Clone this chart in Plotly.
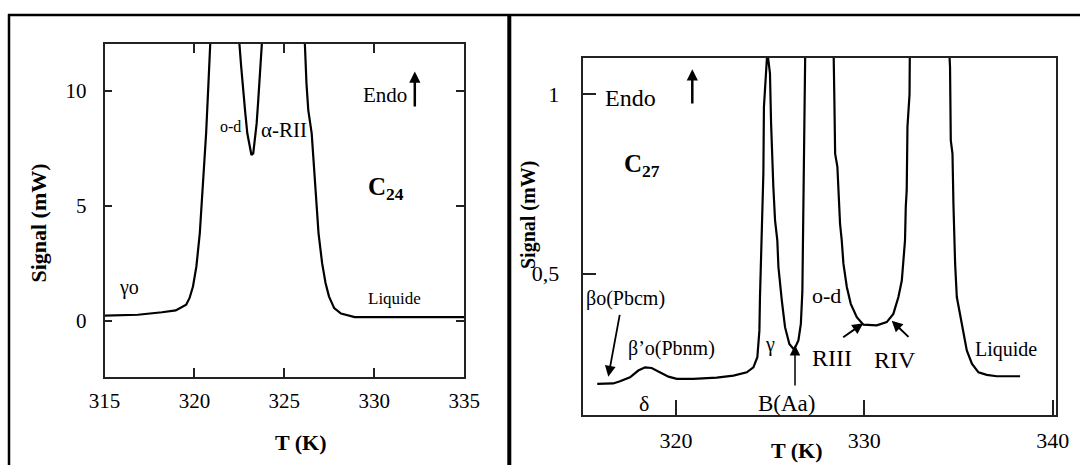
import plotly.graph_objects as go

# ---------------- data ----------------
# Left panel: C24
c24_T = [315.0, 316.86, 318.2, 318.96, 319.54, 319.73, 319.92, 320.11, 320.3, 320.49,
         320.65, 320.78, 320.88, 321.7, 322.5, 322.6, 322.69, 322.83, 322.94, 323.08,
         323.17, 323.27, 323.36, 323.46, 323.55, 323.65, 323.75, 325.0, 326.14, 326.23,
         326.33, 326.52, 326.66, 326.77, 326.9, 327.1, 327.29, 327.48, 327.77, 328.15,
         328.91, 335.0]
c24_signal = [0.23, 0.27, 0.38, 0.46, 0.71, 1.0, 1.5, 2.37, 3.82, 5.98,
              8.15, 10.32, 12.05, 14.0, 12.05, 11.04, 10.17, 9.02, 8.15, 7.57,
              7.21, 7.28, 7.86, 8.58, 9.6, 10.75, 12.05, 14.0, 12.05, 10.32,
              9.16, 8.15, 6.71, 5.26, 3.82, 2.51, 1.65, 1.07, 0.56, 0.32,
              0.17, 0.17]

# Right panel: C27
c27_T = [315.82, 316.67, 317.03, 317.56, 318.0, 318.36, 318.71, 319.15, 319.6, 320.04,
         320.92, 322.16, 323.05, 323.76, 324.11, 324.32, 324.43, 324.46, 324.51, 324.55,
         324.6, 324.64, 324.67, 324.76, 324.85, 324.99, 325.05, 325.17, 325.26, 325.38,
         325.44, 325.62, 325.79, 326.02, 326.27, 326.5, 326.63, 326.71, 326.74, 326.78,
         326.87, 327.6, 328.36, 328.41, 328.45, 328.57, 328.64, 328.71, 328.8, 328.89,
         329.07, 329.28, 329.6, 329.95, 330.66, 331.19, 331.54, 331.81, 331.99, 332.11,
         332.16, 332.2, 332.25, 332.29, 332.4, 332.42, 333.5, 334.48, 334.55, 334.59,
         334.68, 334.73, 334.76, 334.82, 334.91, 335.17, 335.44, 335.71, 336.06, 336.5,
         337.03, 338.27]
c27_signal = [0.193, 0.194, 0.2, 0.211, 0.23, 0.239, 0.237, 0.225, 0.213, 0.207,
              0.207, 0.21, 0.216, 0.225, 0.239, 0.267, 0.342, 0.435, 0.528, 0.62,
              0.70, 0.78, 0.965, 1.068, 1.12, 1.059, 0.919, 0.742, 0.649, 0.593,
              0.518, 0.425, 0.351, 0.304, 0.288, 0.314, 0.36, 0.45, 0.6, 0.8,
              1.15, 1.5, 1.15, 0.984, 0.835, 0.798, 0.714, 0.64, 0.593, 0.528,
              0.463, 0.416, 0.379, 0.358, 0.356, 0.365, 0.388, 0.435, 0.481, 0.546,
              0.593, 0.686, 0.733, 0.91, 1.0, 1.15, 1.5, 1.15, 1.077, 0.872,
              0.835, 0.696, 0.621, 0.528, 0.435, 0.36, 0.286, 0.249, 0.225, 0.218,
              0.214, 0.214]

c24_xticks = [315, 320, 325, 330, 335]
c24_yticks = [0, 5, 10]
c27_xticks = [320, 330, 340]
c27_yticks = [0.5, 1]
c27_yticklabels = ["0,5", "1"]

assert len(c24_T) == len(c24_signal)
assert len(c27_T) == len(c27_signal)

# ---------------- figure ----------------
W, H = 1080, 465
SERIF = "Liberation Serif, Times New Roman, serif"


def px(x):
    return x / W


def py(y):
    return 1 - y / H


fig = go.Figure()
fig.add_trace(go.Scatter(x=c24_T, y=c24_signal, mode="lines",
                         line=dict(color="black", width=2.2),
                         xaxis="x", yaxis="y", hoverinfo="skip"))
fig.add_trace(go.Scatter(x=c27_T, y=c27_signal, mode="lines",
                         line=dict(color="black", width=2.2),
                         xaxis="x2", yaxis="y2", hoverinfo="skip"))


def axis(**kw):
    base = dict(showgrid=False, zeroline=False, showline=True, automargin=False,
                linecolor="#222", linewidth=1.5, ticks="inside",
                tickcolor="#222", tickwidth=1.5,
                tickfont=dict(family=SERIF, size=21, color="black"))
    base.update(kw)
    return base


fig.update_layout(
    template="none",
    width=W, height=H,
    margin=dict(l=0, r=0, t=0, b=0, pad=0, autoexpand=False),
    paper_bgcolor="white", plot_bgcolor="white",
    showlegend=False,
    hovermode=False,
    xaxis=axis(domain=[px(104.5), px(464.2)], range=[315, 335], anchor="y",
               tickvals=c24_xticks, ticklen=9, mirror="ticks",
               ticklabelstandoff=4),
    yaxis=axis(domain=[py(376.7), py(44)], range=[-2.42, 12.03], anchor="x",
               tickvals=c24_yticks, ticklen=8, mirror="ticks",
               ticklabelstandoff=12),
    xaxis2=axis(domain=[px(583.3), px(1055.7)], range=[315.08, 340.16], anchor="y2",
                tickvals=c27_xticks, ticklen=15, mirror=True,
                ticklabelstandoff=5,
                tickfont=dict(family=SERIF, size=22, color="black")),
    yaxis2=axis(domain=[py(415), py(57.5)], range=[0.106, 1.103], anchor="x2",
                tickvals=c27_yticks, ticktext=c27_yticklabels, ticklen=13, mirror=True,
                ticklabelstandoff=18,
                tickfont=dict(family=SERIF, size=22, color="black")),
)

# outer frame and divider
fig.add_shape(type="line", xref="paper", yref="paper", x0=px(8), x1=1, y0=py(15), y1=py(15),
              line=dict(color="black", width=2.5))
fig.add_shape(type="line", xref="paper", yref="paper", x0=px(9), x1=px(9), y0=py(14), y1=0,
              line=dict(color="black", width=2.5))
fig.add_shape(type="line", xref="paper", yref="paper", x0=px(509.3), x1=px(509.3), y0=py(14), y1=0,
              line=dict(color="black", width=4))


def label(text, x, y, size, bold=False, angle=0):
    if bold:
        text = "<b>" + text + "</b>"
    fig.add_annotation(text=text, xref="paper", yref="paper", x=px(x), y=py(y),
                       xanchor="center", yanchor="middle", showarrow=False,
                       textangle=angle,
                       font=dict(family=SERIF, size=size, color="black"))


def arrow(hx, hy, tx, ty, width=2, size=1.0):
    fig.add_annotation(text="", xref="paper", yref="paper", x=px(hx), y=py(hy),
                       ax=tx - hx, ay=ty - hy, axref="pixel", ayref="pixel",
                       showarrow=True, arrowhead=2, arrowsize=size,
                       arrowwidth=width, arrowcolor="black")


# left panel texts
label("Signal (mW)", 38.6, 223, 22, bold=True, angle=-90)
label("T (K)", 301, 442, 22, bold=True)
label("γo", 129, 287, 20)
label("o-d", 230, 126.4, 16)
label("α-RII", 284, 130.4, 21)
label("Endo", 384.9, 95.5, 21)
label("C<sub>24</sub>", 385.5, 188, 25, bold=True)
label("Liquide", 394.5, 298, 17)
arrow(414.8, 71.5, 414.8, 108, width=2.5, size=0.9)

# right panel texts
label("Signal (mW)", 528, 215, 20, bold=True, angle=-90)
label("T (K)", 797, 450, 22, bold=True)
label("Endo", 630, 98.3, 24)
label("C<sub>27</sub>", 641.7, 165, 25, bold=True)
label("βo(Pbcm)", 625, 298.3, 20)
label("β’o(Pbnm)", 671.7, 348.3, 20)
label("δ", 644, 403.3, 22)
label("γ", 770, 344, 20)
label("B(Aa)", 786.7, 403.3, 23)
label("o-d", 826.7, 295, 22)
label("RIII", 831.7, 358.3, 24)
label("RIV", 895, 360, 24)
label("Liquide", 1006, 349.3, 20)
arrow(692.3, 69.3, 692.3, 105, width=2.5, size=0.9)
arrow(608.3, 376.7, 620, 313.3, width=1.8, size=1.2)
arrow(795, 345, 795, 387, width=1.5, size=1.4)
arrow(863.3, 323.3, 841.7, 338.3, width=2, size=1.1)
arrow(891.7, 320.7, 910, 338.3, width=2, size=1.1)

# the page's default 8px body margin would shift the 1080x465 canvas; remove it
fig.write_html("out.html",
               config={"displayModeBar": False},
               post_script="document.body.style.margin='0';document.body.style.overflow='hidden';")
